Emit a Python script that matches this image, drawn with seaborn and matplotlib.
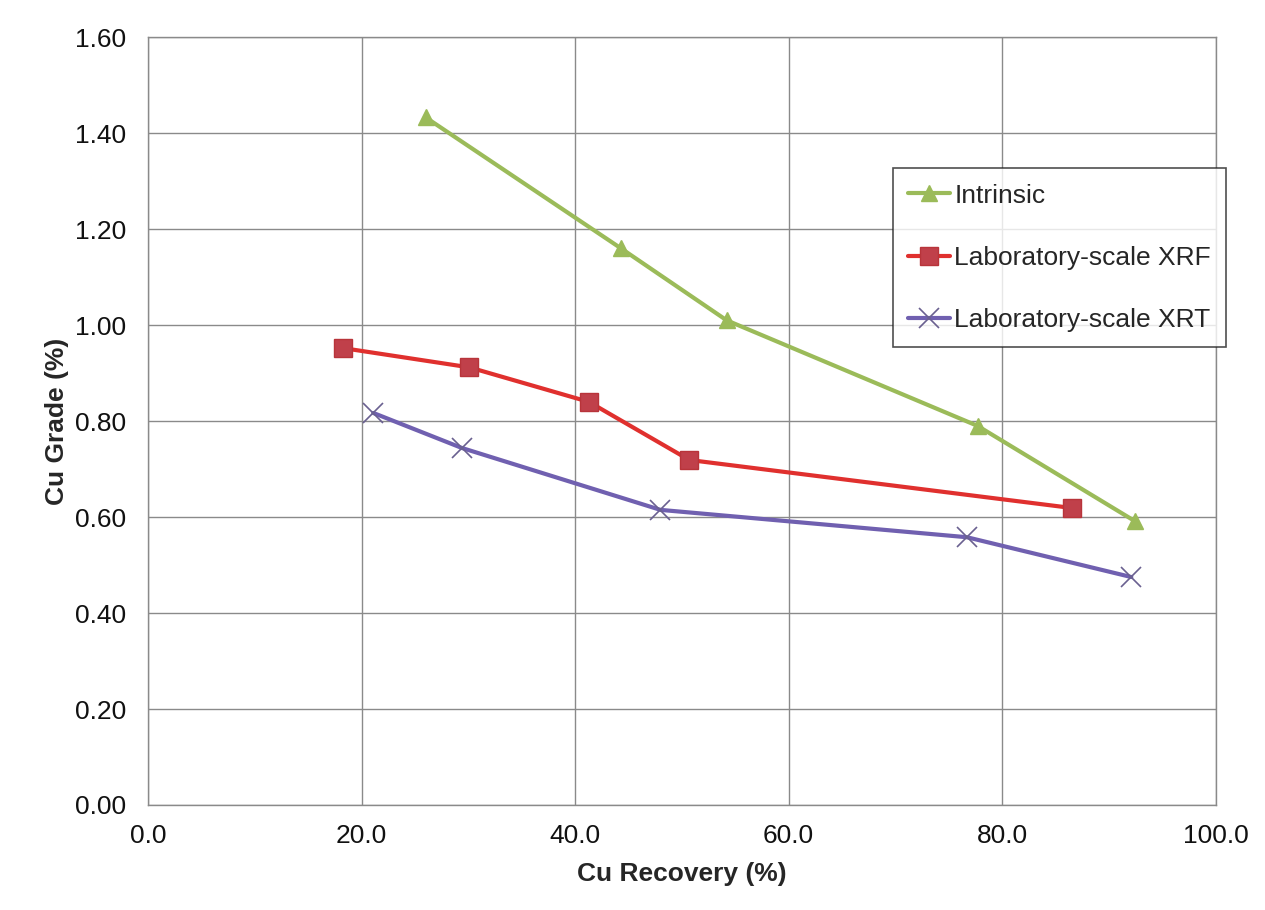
import matplotlib
matplotlib.use("Agg")
import matplotlib.pyplot as plt
import seaborn as sns
import pandas as pd

sns.set_theme(style="white")
plt.rcParams["font.family"] = ["Liberation Sans", "DejaVu Sans"]

# Cu recovery (%) vs Cu grade (%) for each sorting method
intrinsic_recovery = [26.0, 44.3, 54.2, 77.7, 92.4]
intrinsic_grade = [1.433, 1.160, 1.010, 0.790, 0.592]

xrf_recovery = [18.3, 30.1, 41.3, 50.7, 86.5]
xrf_grade = [0.952, 0.912, 0.840, 0.719, 0.619]

xrt_recovery = [21.1, 29.4, 48.0, 76.7, 92.1]
xrt_grade = [0.817, 0.744, 0.615, 0.558, 0.475]

series_names = ["Intrinsic", "Laboratory-scale XRF", "Laboratory-scale XRT"]
x_ticks = [0, 20, 40, 60, 80, 100]
y_ticks = [0.0, 0.2, 0.4, 0.6, 0.8, 1.0, 1.2, 1.4, 1.6]

frames = []
for name, xs, ys in zip(series_names,
                        [intrinsic_recovery, xrf_recovery, xrt_recovery],
                        [intrinsic_grade, xrf_grade, xrt_grade]):
    frames.append(pd.DataFrame({"recovery": xs, "grade": ys, "series": name}))
df = pd.concat(frames, ignore_index=True)

styles = {
    "Intrinsic": dict(color="#9BBB59", marker="^", ms=12, mec="#9BBB59", mfc="#9BBB59", mew=1),
    "Laboratory-scale XRF": dict(color="#E0302E", marker="s", ms=13, mec="#B8343A", mfc="#C0404A", mew=1),
    "Laboratory-scale XRT": dict(color="#7060B0", marker="x", ms=14, mec="#6A6090", mfc="none", mew=1.2),
}

fig = plt.figure(figsize=(12.65, 9.1), dpi=100)
ax = fig.add_axes([0.117, 0.1154, 0.844, 0.8437])

for name in series_names:
    st = styles[name]
    sns.lineplot(data=df[df["series"] == name], x="recovery", y="grade",
                 ax=ax, color=st["color"], linewidth=3, marker=st["marker"],
                 markersize=st["ms"], markeredgecolor=st["mec"],
                 markerfacecolor=st["mfc"], markeredgewidth=st["mew"],
                 label=name, sort=False, estimator=None)

ax.set_xlim(0, 100)
ax.set_ylim(0, 1.6)
ax.set_xticks(x_ticks)
ax.set_xticklabels([f"{v:.1f}" for v in x_ticks])
ax.set_yticks(y_ticks)
ax.set_yticklabels([f"{v:.2f}" for v in y_ticks])
ax.grid(True, color="#8a8a8a", linewidth=1)
ax.set_axisbelow(True)

for side in ["top", "right", "left", "bottom"]:
    ax.spines[side].set_visible(True)
    ax.spines[side].set_color("#8a8a8a")
    ax.spines[side].set_linewidth(1)

ax.tick_params(axis="both", which="major", direction="out", length=6,
               width=1, color="#8a8a8a", labelsize=19, labelcolor="#111111")
ax.tick_params(axis="x", pad=8)
ax.tick_params(axis="y", pad=10)

ax.set_xlabel("Cu Recovery (%)", fontsize=19, fontweight="bold", labelpad=10)
ax.set_ylabel("Cu Grade (%)", fontsize=19, fontweight="bold", labelpad=4)

leg = ax.legend(loc="upper left", bbox_to_anchor=(0.6976, 0.8294),
                fontsize=19, frameon=True, fancybox=False,
                handlelength=1.6, handletextpad=0.15, labelspacing=1.45,
                borderpad=0.58, borderaxespad=0)
leg.get_frame().set_edgecolor("#222222")
leg.get_frame().set_linewidth(1.2)

fig.savefig("out.png", dpi=100, facecolor="white")
